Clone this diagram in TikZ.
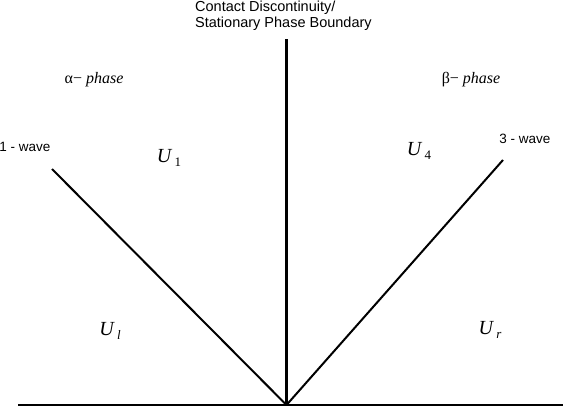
\documentclass[tikz,border=0pt]{standalone}
\usepackage{fontspec}
\setmainfont{Liberation Serif}
\setsansfont{Liberation Sans}
\newcommand{\regionU}[1]{\textit{U}\raisebox{-0.45ex}{\fontsize{13}{13}\selectfont\,#1}}

\begin{document}
\begin{tikzpicture}[x=1pt, y=-1pt,
  wavelabel/.style={font=\sffamily\fontsize{13.5}{15}\selectfont},
  statelabel/.style={font=\fontsize{20}{22}\selectfont},
  phaselabel/.style={font=\fontsize{16}{18}\selectfont}]

  \useasboundingbox (0,0) rectangle (563,412);

  % ── End points of the wave fan ────────────────────────────────
  \coordinate (origin)       at (286.5,405);
  \coordinate (baseL)        at (18,405);
  \coordinate (baseR)        at (563,405);
  \coordinate (interfaceTop) at (286.5,39);
  \coordinate (waveOneTop)   at (52,169);
  \coordinate (waveThreeTop) at (503,160);

  % ── Baseline, interface and the two waves ─────────────────────
  \draw[line width=2.5pt] (baseL) -- (baseR);
  \draw[line width=3pt] (origin) -- (interfaceTop);
  \draw[line width=2pt] (origin) -- (waveOneTop);
  \draw[line width=2pt] (origin) -- (waveThreeTop);

  % ── Labels ────────────────────────────────────────────────────
  \node[anchor=north west, align=left, font=\sffamily\fontsize{14.5}{16}\selectfont, inner sep=0pt]
    (interfaceLabel) at (195,0.5) {Contact Discontinuity/\\Stationary Phase Boundary};
  \node[wavelabel] (waveOneLabel)   at (25,147) {1 - wave};
  \node[wavelabel] (waveThreeLabel) at (525,139) {3 - wave};
  \node[phaselabel] (alphaLabel) at (94,80) {α− \textit{phase}};
  \node[phaselabel] (betaLabel)  at (471,80) {β− \textit{phase}};

  % ── Constant states ───────────────────────────────────────────
  \node[statelabel] (stateOne)   at (169,158) {\regionU{1}};
  \node[statelabel] (stateFour)  at (419,151) {\regionU{4}};
  \node[statelabel] (stateLeft)  at (110,331) {\regionU{\textit{l}}};
  \node[statelabel] (stateRight) at (490,330) {\regionU{\textit{r}}};

\end{tikzpicture}
\end{document}
